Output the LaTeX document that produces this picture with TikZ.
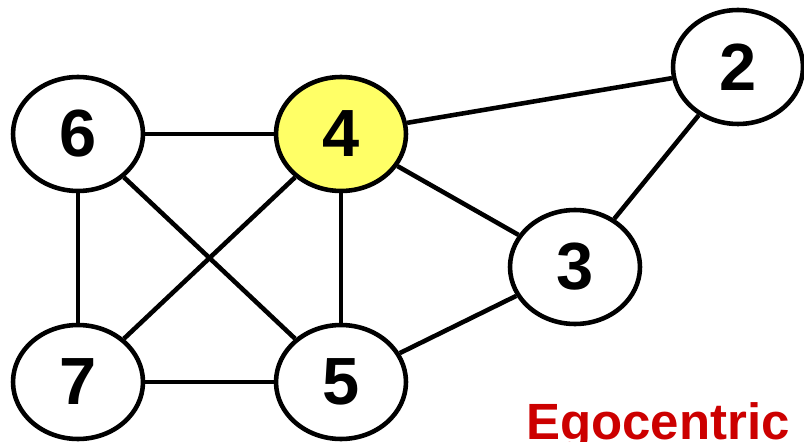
\documentclass[tikz,border=0pt]{standalone}
\usepackage{fontspec}
\setmainfont{Liberation Sans}
\usetikzlibrary{shapes.geometric}

\definecolor{egored}{RGB}{204,0,0}
\definecolor{egoyellow}{RGB}{255,255,102}

\tikzset{
  actor/.style={ellipse, draw=black, line width=2.6pt, fill=white,
    minimum width=2.6cm, minimum height=2.28cm, inner sep=0pt,
    font=\fontsize{38}{38}\selectfont\bfseries},
  ego/.style={actor, fill=egoyellow},
  tie/.style={line width=2.6pt, black}
}

\begin{document}
\begin{tikzpicture}[x=0.02cm, y=-0.02cm]
  % Frame (pixel coordinates, origin top left)
  \useasboundingbox (0,0) rectangle (804,442);
  \clip (0,0) rectangle (804,442);

  % Actors
  \node[actor] (n6) at (78,134) {6};
  \node[ego]   (n4) at (341,134) {4};
  \node[actor] (n7) at (78,382) {7};
  \node[actor] (n5) at (341,382) {5};
  \node[actor] (n3) at (575,267) {3};
  \node[actor] (n2) at (738,67) {2};

  % Ties
  \foreach \a/\b in {n6/n4, n6/n7, n6/n5, n4/n7, n4/n5, n4/n2, n4/n3, n3/n2, n3/n5, n7/n5} {
    \draw[tie] (\a) -- (\b);
  }

  % Caption (cut off at the right edge, as in the original)
  \node[anchor=base west, inner sep=0pt, text=egored,
    font=\fontsize{29}{29}\selectfont\bfseries] (caption) at (526,439) {Egocentric N};
\end{tikzpicture}
\end{document}
